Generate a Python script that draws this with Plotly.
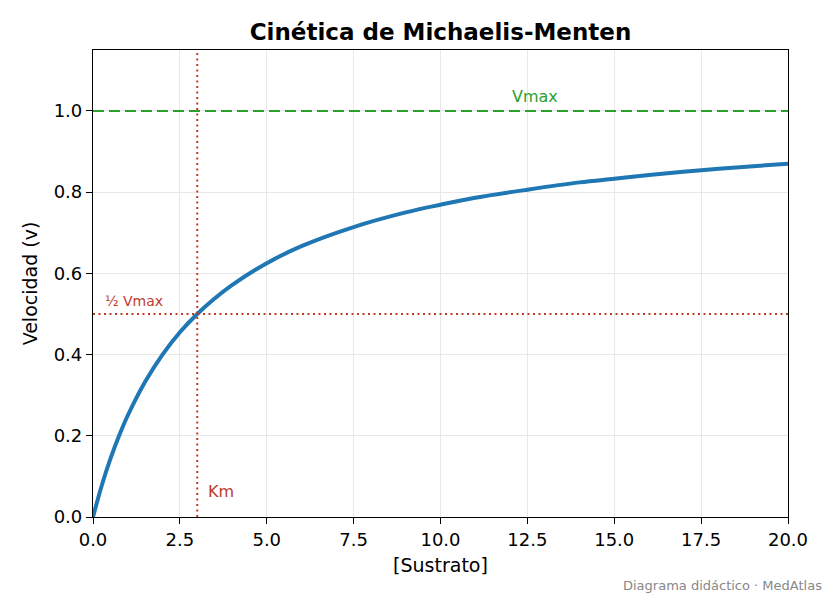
import plotly.graph_objects as go

# valores
sustrato = [0, 0.25, 0.5, 0.75, 1, 1.5, 2, 2.5, 3, 3.5, 4, 5, 6, 7.5, 9, 10,
            11, 12.5, 14, 15, 16, 17.5, 19, 20]
velocidad = [0, 0.077, 0.143, 0.2, 0.25, 0.333, 0.4, 0.455, 0.5, 0.538, 0.571,
             0.625, 0.667, 0.714, 0.75, 0.769, 0.786, 0.806, 0.824, 0.833,
             0.842, 0.854, 0.864, 0.87]
vmax = 1.0
km = 3.0
x_ticks = [0, 2.5, 5, 7.5, 10, 12.5, 15, 17.5, 20]
y_ticks = [0, 0.2, 0.4, 0.6, 0.8, 1.0]

FONT = "DejaVu Sans"
RED = "#c0392b"
GREEN = "#2ca02c"

fig = go.Figure()

fig.add_trace(go.Scatter(
    x=sustrato, y=velocidad, mode="lines", line_shape="spline",
    line=dict(color="#1f77b4", width=4), showlegend=False,
))

fig.add_hline(y=vmax, line=dict(color=GREEN, width=2, dash="11px,5px"))
fig.add_hline(y=vmax / 2, line=dict(color=RED, width=2, dash="2px,3.5px"))
fig.add_vline(x=km, line=dict(color=RED, width=2, dash="2px,3.5px"))

fig.add_annotation(x=12, y=1.035, text="Vmax", showarrow=False, xanchor="left",
                   font=dict(family=FONT, size=16, color=GREEN))
fig.add_annotation(x=0.3, y=0.532, text="½ Vmax", showarrow=False, xanchor="left",
                   font=dict(family=FONT, size=14, color=RED))
fig.add_annotation(x=km + 0.25, y=0.064, text="Km", showarrow=False, xanchor="left",
                   font=dict(family=FONT, size=16, color=RED))
fig.add_annotation(x=1, y=0, xref="paper", yref="paper", xanchor="right", yanchor="top",
                   xshift=36, yshift=-59, text="Diagrama didáctico · MedAtlas",
                   showarrow=False, font=dict(family=FONT, size=13, color="#888888"))

axis_common = dict(
    showline=True, linecolor="black", linewidth=1.2, mirror=True,
    ticks="outside", ticklen=6, tickcolor="black",
    showgrid=True, gridcolor="#e8e8e8", gridwidth=1, zeroline=False,
    tickfont=dict(family=FONT, size=18, color="black"),
)

fig.update_layout(
    width=824, height=590,
    paper_bgcolor="white", plot_bgcolor="white",
    margin=dict(l=85, r=44, t=42, b=81),
    title=dict(text="<b>Cinética de Michaelis-Menten</b>", x=0.5, xref="paper",
               xanchor="center", y=1 - 24 / 590, yanchor="middle",
               font=dict(family=FONT, size=23, color="black")),
    xaxis=dict(range=[0, 20], tickvals=x_ticks, ticktext=[f"{v:.1f}" for v in x_ticks],
               title=dict(text="[Sustrato]", font=dict(family=FONT, size=19, color="black"),
                          standoff=9),
               **axis_common),
    yaxis=dict(range=[0, 1.15], tickvals=y_ticks, ticktext=[f"{v:.1f}" for v in y_ticks],
               title=dict(text="Velocidad (v)", font=dict(family=FONT, size=19, color="black"),
                          standoff=11),
               **axis_common),
)

fig.write_html("out.html")
